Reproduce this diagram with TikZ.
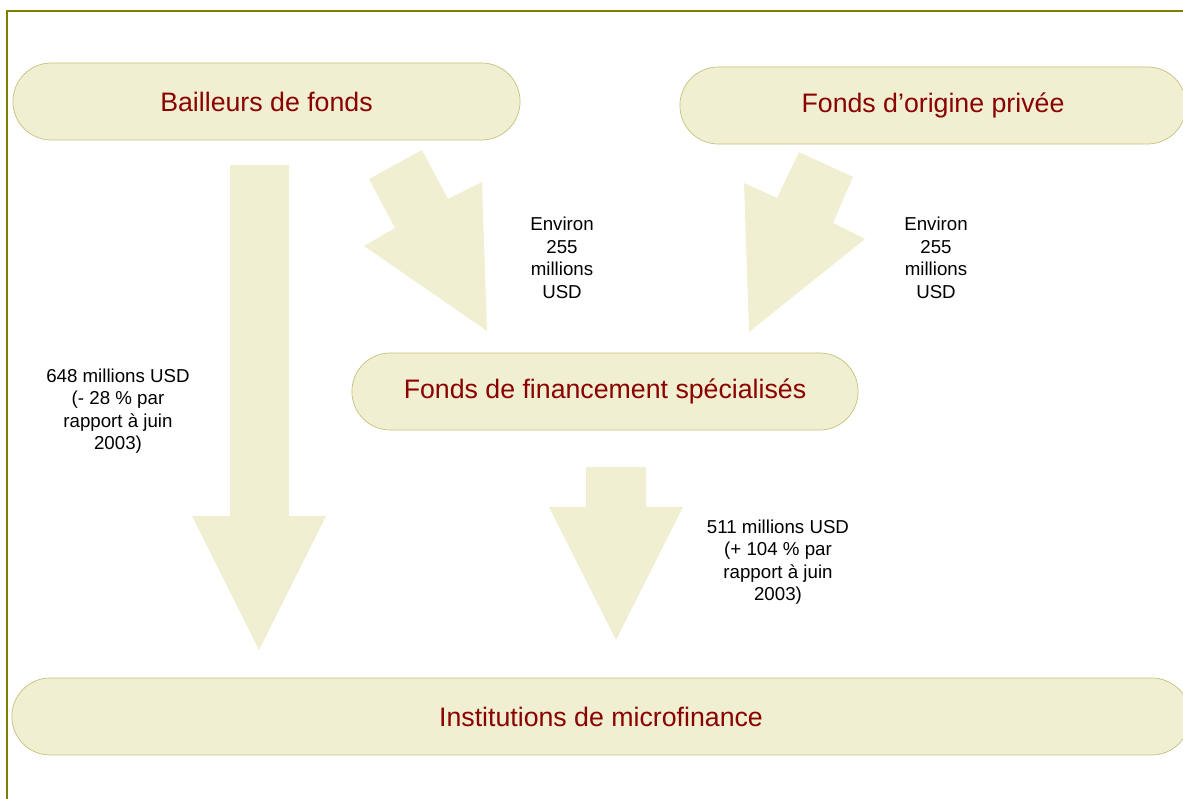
\documentclass[tikz,border=0pt]{standalone}
\usepackage{fontspec}
\setmainfont{Liberation Sans}
\usepackage{xcolor}
\definecolor{pillfill}{HTML}{F0EFD1}
\definecolor{pillline}{HTML}{C4C27E}
\definecolor{titlered}{HTML}{8B0000}
\definecolor{frameolive}{HTML}{808000}

\begin{document}
\begin{tikzpicture}[
      x=0.025cm, y=-0.025cm,
      pill/.style={draw=pillline, line width=0.5pt, fill=pillfill,
        rounded corners=0.96cm, minimum height=1.925cm,
        text=titlered, font=\fontsize{19}{23}\selectfont},
      flow/.style={fill=pillfill},
      amount/.style={align=center, font=\fontsize{13.3}{16}\selectfont}
    ]
    \useasboundingbox (0,0) rectangle (1183,799);
    \clip (0,0) rectangle (1183,799);
    \draw[frameolive, line width=1.4pt] (7,805) -- (7,11) -- (1190,11);

    \node[pill, minimum width=12.675cm] (bailleurs) at (266.5,101.5) {Bailleurs de fonds};
    \node[pill, minimum width=12.65cm] (prives) at (933,105.5) {Fonds d’origine privée};
    \node[pill, minimum width=12.65cm] (specialises) at (605,391.5) {Fonds de financement spécialisés};
    \node[pill, minimum width=29.45cm] (imf) at (601,716.5) {Institutions de microfinance};

    \fill[flow] (230,165) -- (289,165) -- (289,516) -- (326,516)
      -- (259,650) -- (192,516) -- (230,516) -- cycle;
    \fill[flow] (422,150) -- (448,199) -- (482,182) -- (487,331)
      -- (364,246) -- (395,228) -- (369,179) -- cycle;
    \fill[flow] (799,152) -- (853,177) -- (833,223) -- (865,239)
      -- (749,332) -- (744,183) -- (777,198) -- cycle;
    \fill[flow] (586,467) -- (646,467) -- (646,507) -- (683,507)
      -- (616,640) -- (549,507) -- (586,507) -- cycle;

    \node[amount] (bailleursflow) at (562,258) {Environ\\255\\millions\\USD};
    \node[amount] (privesflow) at (936,258) {Environ\\255\\millions\\USD};
    \node[amount] (directflow) at (118,411) {648 millions USD\\(- 28 \% par\\rapport à juin\\2003)};
    \node[amount] (fondsflow) at (778,562) {511 millions USD\\(+ 104 \% par\\rapport à juin\\2003)};
\end{tikzpicture}
\end{document}
